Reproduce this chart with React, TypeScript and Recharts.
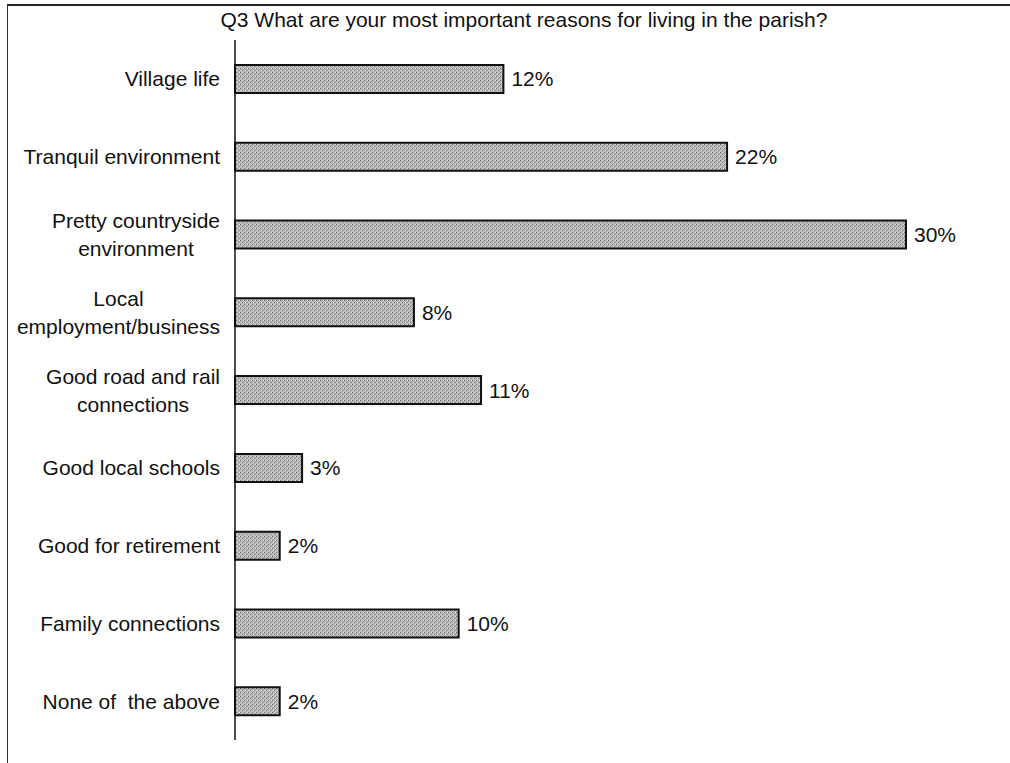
import { BarChart, Bar, XAxis, YAxis, LabelList } from 'recharts'

const reasons = [
  'Village life',
  'Tranquil environment',
  'Pretty countryside\nenvironment',
  'Local\nemployment/business',
  'Good road and rail\nconnections',
  'Good local schools',
  'Good for retirement',
  'Family connections',
  'None of  the above',
]
const shares = [12, 22, 30, 8, 11, 3, 2, 10, 2]

const title = 'Q3 What are your most important reasons for living in the parish?'
const FONT = "'Liberation Sans', Arial, sans-serif"
const FS = 21

const data = reasons.map((r, i) => ({ reason: r, share: shares[i] }))

let ctx: CanvasRenderingContext2D | null = null
function measure(s: string) {
  if (!ctx) ctx = document.createElement('canvas').getContext('2d')
  if (!ctx) return s.length * 10
  ctx.font = `${FS}px ${FONT}`
  return ctx.measureText(s).width
}

// multi-line labels: lines centered on each other, block right-aligned
const ReasonTick = ({ y, payload }: any) => {
  const lines: string[] = String(payload.value).split('\n')
  const maxW = Math.max(...lines.map(measure))
  const cx = 220 - maxW / 2
  const lh = 28
  const y0 = y - ((lines.length - 1) * lh) / 2
  return (
    <g>
      {lines.map((l, i) => (
        <text
          key={i}
          x={cx}
          y={y0 + i * lh}
          dy="0.36em"
          textAnchor="middle"
          fontSize={FS}
          fontFamily={FONT}
          fill="#111"
          style={{ whiteSpace: 'pre' }}
        >
          {l}
        </text>
      ))}
    </g>
  )
}

export default function App() {
  return (
    <div style={{ position: 'absolute', left: 0, top: 0, width: 1010, height: 763, background: '#fff', overflow: 'hidden' }}>
      {/* frame */}
      <div
        style={{
          position: 'absolute',
          left: 7,
          top: 4,
          width: 1020,
          height: 757,
          borderLeft: '1.5px solid #333',
          borderTop: '2px solid #222',
          borderBottom: '1px solid #999',
        }}
      />
      <div
        style={{
          position: 'absolute',
          left: 0,
          top: 8,
          width: 1048,
          textAlign: 'center',
          fontFamily: FONT,
          fontSize: FS,
          color: '#111',
          whiteSpace: 'nowrap',
        }}
      >
        {title}
      </div>
      <div style={{ position: 'absolute', left: 0, top: 0 }}>
        <BarChart
          width={1010}
          height={763}
          data={data}
          layout="vertical"
          margin={{ top: 40, right: 104, bottom: 23, left: 0 }}
          barSize={28}
        >
          <defs>
            <pattern id="speckle" width="4" height="4" patternUnits="userSpaceOnUse">
              <rect width="4" height="4" fill="#b8b8b8" />
              <rect x="0" y="0" width="1" height="1" fill="#6e6e6e" />
              <rect x="2" y="2" width="1" height="1" fill="#7e7e7e" />
              <rect x="3" y="1" width="1" height="1" fill="#9a9a9a" />
              <rect x="3" y="0" width="1" height="1" fill="#e2e2e2" />
              <rect x="1" y="2" width="1" height="1" fill="#dcdcdc" />
            </pattern>
          </defs>
          <XAxis type="number" domain={[0, 30]} hide />
          <YAxis
            type="category"
            dataKey="reason"
            width={235}
            axisLine={{ stroke: '#111', strokeWidth: 1.5 }}
            tickLine={false}
            tick={<ReasonTick />}
            interval={0}
          />
          <Bar dataKey="share" fill="url(#speckle)" stroke="#111" strokeWidth={2} isAnimationActive={false}>
            <LabelList
              dataKey="share"
              position="right"
              offset={8}
              formatter={(v: any) => `${v}%`}
              fill="#111"
              fontSize={FS}
              fontFamily={FONT}
            />
          </Bar>
        </BarChart>
      </div>
    </div>
  )
}
